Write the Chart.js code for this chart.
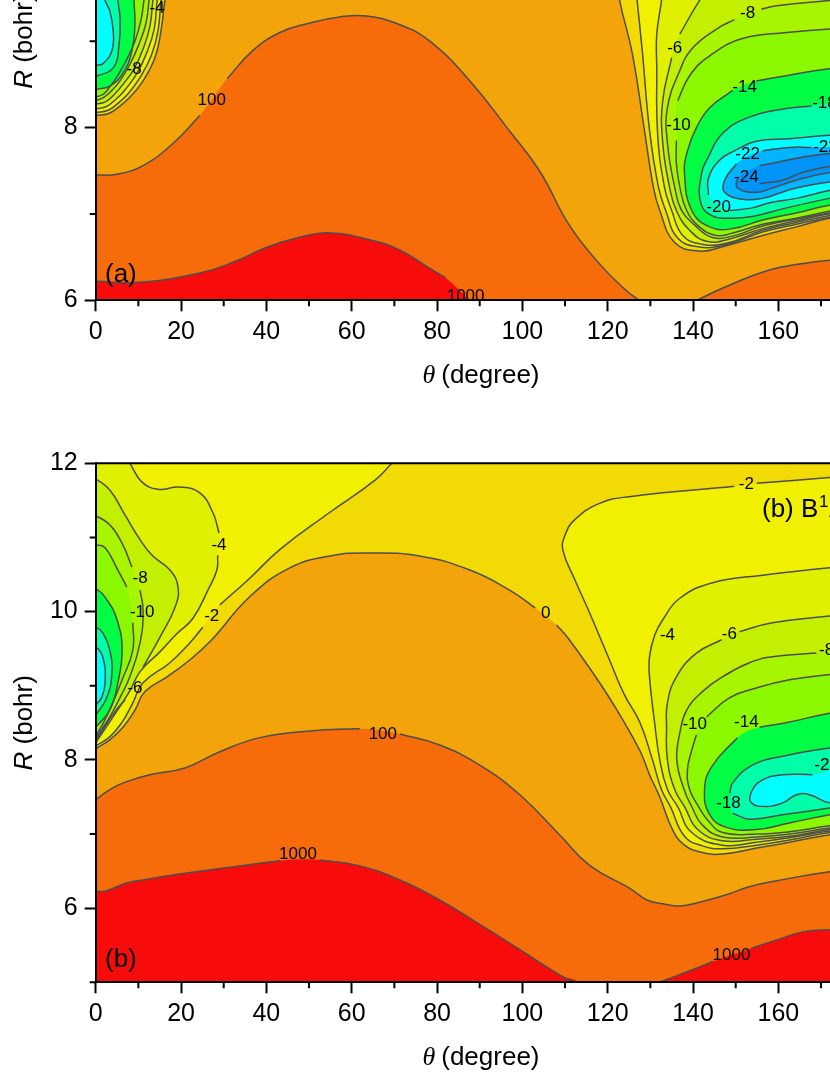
<!DOCTYPE html>
<html>
<head>
<meta charset="utf-8">
<style>
  html, body { margin: 0; padding: 0; background: #fff; overflow: hidden; width: 830px; height: 1075px; }
  canvas { position: absolute; left: 0; }
  #panelA { top: -240px; }
  #panelB { top: 400px; }
</style>
</head>
<body>
<canvas id="panelA" width="920" height="660"></canvas>
<canvas id="panelB" width="920" height="675"></canvas>
<script src="https://cdn.jsdelivr.net/npm/chart.js@4"></script>
<script>
/* ===================== AXES ===================== */
const thetaTicks = [0, 20, 40, 60, 80, 100, 120, 140, 160, 180];
const thetaMinor = [10, 30, 50, 70, 90, 110, 130, 150, 170];
const aRTicks = [6, 8, 10, 12];
const aRMinor = [7, 9, 11];
const bRTicks = [6, 8, 10, 12];
const bRMinor = [5, 7, 9, 11];

/* ===================== CONTOUR LEVEL COLOURS ===================== */
const GOLD = '#F3A40A';      // 0..100
const C_1000 = '#F80B0B';
const C_100 = '#F66B0A';
const C_0 = '#F2DA05';
const C_M2 = '#F0F000';
const C_M4 = '#DFF000';
const C_M6 = '#C3F000';
const C_M8 = '#A8F500';
const C_M10 = '#8CF800';
const C_M14 = '#00FF44';
const C_M18 = '#00FFA8';
const C_M20 = '#00FFFF';
const C_M22 = '#00B4FF';
const C_M24 = '#0094F8';
const LINE_COLOR = '#4d4d4d';
const FONT = '"Liberation Sans", Arial, sans-serif';

/* ===================== PANEL (a) CONTOURS: [theta, R], null = gap under a label ===================== */
const a100 = [[0,7.45],[5,7.46],[11.1,7.56],[18.1,7.815],[24.4,8.14],null,[30.8,8.565],[36.8,8.89],[43.2,9.1],[50.2,9.21],[57.2,9.28],[63.5,9.29],[71.3,9.19],[78.3,9.0],[87.7,8.54],[97,7.96],[104,7.5],[111,6.87],[118.3,6.41],[124.2,6.12],[127.7,5.99],[130,5.91]];
const a100Right = [[139.2,5.94],[141.5,6.015],[149.7,6.2],[157.9,6.35],[165,6.42],[172,6.465],[181,6.49]];
const a1000 = [[0,6.22],[10.4,6.21],[24.4,6.315],[32.2,6.44],[40.1,6.615],[47.8,6.73],[54.9,6.78],[64.2,6.7],[71.3,6.58],[78.3,6.37],[82,6.26],null,[87.7,5.99],[89,5.9]];

const aLeft0 = [[0,8.14],[2.9,8.16],[5.2,8.23],[8,8.35],[11.1,8.54],[13.9,8.81],[15.3,9.12],[16.2,9.47],[17.2,9.81]];
const aLeftM2 = [[0,8.17],[2.9,8.2],[5.2,8.28],[7.6,8.39],[10.4,8.58],[13,8.83],[14.6,9.12],[15.3,9.47],[16.2,9.81]];
const aLeftM4 = [[0,8.22],[2.4,8.24],[4.8,8.33],[7.1,8.45],[9.7,8.63],[12,8.87],[13.7,9.14],[14.4,9.47],[15.3,9.81]];
const aLeftM6 = [[0,8.27],[2.4,8.3],[4.3,8.38],[6.4,8.5],[9,8.68],[11.1,8.91],[12.7,9.17],[13.4,9.47],[14.4,9.81]];
const aLeftM8 = [[0,8.31],[1.9,8.35],[3.8,8.43],[5.7,8.54],[8,8.73],[10.1,8.96],[11.8,9.21],[12.5,9.47],[13.4,9.81]];
const aLeftM10 = [[0,8.35],[1.9,8.39],[3.3,8.47],[5,8.59],[7.1,8.77],[9.2,9.0],[10.6,9.24],[11.3,9.47],[12.2,9.81]];
const aLeftM14 = [[0,8.44],[3.3,8.48],[6.4,8.63],[8.5,8.89],[9.2,9.2],[9,9.47],[9.2,9.81]];
const aLeftM18 = [[0,8.59],[4.1,8.69],[5.5,8.97],[5.7,9.27],[5.2,9.47],[4.8,9.81]];
const aLeftM20 = [[0,8.72],[1.7,8.74],[3.8,8.89],[4.1,9.12],[3.3,9.35],[2.2,9.47],[1,9.7]];

const aRight0 = [[122.3,9.7],[122.8,9.47],[125.8,8.85],[128.6,7.97],[130.7,7.31],[132.2,7.04],[135.7,6.67],[141.5,6.57],[146.9,6.62],[156.3,6.75],[164.2,6.85],[171.9,6.95],[181.3,7.02]];
const aRightM2 = [[126.5,9.7],[126.9,9.47],[128.1,8.89],[129.8,7.97],[131.9,7.31],[133.6,7.04],[136.4,6.72],[141.1,6.62],[147.4,6.64],[156.3,6.79],[164.2,6.88],[171.9,6.96],[181.3,7.03]];
const aRightM4 = [[133,9.7],[132.6,9.47],[131.5,9.08],[131.5,8.69],[131.7,7.93],[133.3,7.31],[135,7.04],[137.6,6.75],[142,6.65],[147.8,6.66],[156.3,6.81],[164.2,6.9],[171.9,6.98],[181.3,7.04]];
const aRightM6 = [[145,9.7],[141.5,9.47],[136.9,9.08],null,[135,8.81],[132.9,8.31],[132.9,7.82],[134.5,7.31],[136.1,7.04],[139.2,6.81],[143.4,6.68],[148.6,6.71],[156.3,6.83],[164.2,6.92],[171.9,7.0],[181.3,7.05]];
const aRightM8 = [[181.3,9.52],[171.9,9.47],[159.6,9.41],[156,9.37],null,[149.7,9.25],[145.5,9.14],[139.9,8.92],[136.9,8.66],[134,8.23],[134,7.82],[135.7,7.31],[137.3,7.04],[140.4,6.87],[144.4,6.73],[149,6.74],[156.3,6.86],[164.2,6.94],[171.9,7.01],[181.3,7.07]];
const aRightM10 = [[181.3,9.17],[171.9,9.14],[161.9,9.1],[151.6,9.03],[143.9,8.83],[139.2,8.6],[136.4,8.31],null,[136.1,7.85],[136.1,7.58],[136.9,7.31],[138.5,7.04],[141.5,6.85],[145.5,6.75],[149.3,6.78],[156.3,6.88],[164.2,6.95],[171.9,7.03],[181.3,7.1]];
const aRightM14 = [[181.3,8.7],[171.9,8.68],[161.9,8.6],[154.8,8.54],null,[149.3,8.43],[143.9,8.23],[140.8,8.0],[138.7,7.73],[138,7.47],[139.7,7.04],[143.9,6.85],[149.3,6.83],[156.3,6.93],[164.2,7.01],[171.9,7.1],[181.3,7.16]];
const aRightM18 = [[181.3,8.31],[174.3,8.3],null,[167.8,8.25],[161.9,8.22],[153.2,8.12],[146.9,7.93],[143.4,7.64],[142,7.47],[141.8,7.13],[144.4,6.98],[148.6,6.95],[153.9,6.97],[161.9,7.07],[171.9,7.18],[181.3,7.27]];
const aRightM20 = [[181.3,7.93],[171.9,7.91],[162.6,7.87],[154.8,7.84],[149.7,7.73],[146.2,7.62],[143.6,7.41],[143.6,7.22],null,[148.6,7.04],[153.9,7.07],[158,7.13],[164.2,7.18],[171.9,7.27],[181.3,7.35]];
const aRightM22 = [[181.3,7.8],[174.3,7.78],null,[167.8,7.77],[162.6,7.77],[156.3,7.73],null,[150.2,7.58],[147.4,7.39],[147.4,7.25],[151.6,7.17],[156.3,7.18],[160.2,7.24],[164.2,7.3],[171.9,7.37],[181.3,7.41]];
const aRightM24 = [[181.3,7.73],[171.9,7.7],[164.9,7.65],[158,7.58],[155.6,7.56],null,[150.4,7.41],[150.4,7.3],[154.8,7.25],[158.6,7.3],[164.2,7.39],[171.9,7.48],[181.3,7.53]];
const aRightInner = [[155.6,7.35],[161,7.39],[165.6,7.48],[171.9,7.55],[181.3,7.6]];

/* ===================== PANEL (b) CONTOURS ===================== */
const b100 = [[0,7.46],[3.3,7.6],[6.9,7.7],[12.7,7.8],[20.9,7.89],[29.1,8.11],[38.5,8.3],[50.2,8.39],[61.9,8.42],null,[71.3,8.35],[80.6,8.2],[90,7.93],[99.4,7.53],[108.7,6.99],[115.7,6.58],[125.1,6.27],[129.2,6.11],[132.9,6.06],[136.9,6.03],[141.5,6.08],[147.8,6.18],[153.2,6.29],[159.6,6.37],[172,6.49],[181.3,6.54]];
const b1000 = [[0,6.23],[2.2,6.23],[7.3,6.34],[11.1,6.38],[19.7,6.46],[33.8,6.57],[43.2,6.64],null,[52.5,6.65],[61.9,6.57],[71.3,6.38],[80.6,6.11],[90,5.78],[99.4,5.44],[108.7,5.1],[113.4,4.97]];
const b1000Right = [[129.8,4.94],[132.6,5.01],[140.8,5.19],[144.6,5.28],null,[153.7,5.46],[159.6,5.57],[165.7,5.68],[172,5.71],[181.3,5.72]];

const b0 = [[0,8.15],[3.3,8.27],[6.4,8.44],[9.2,8.67],[11.5,8.92],[16.7,9.12],[22.1,9.35],[27.2,9.62],[36.1,10.2],[45.5,10.59],[54.9,10.75],[64.2,10.79],[75.9,10.75],[87.7,10.56],[97,10.29],[103,10.05],null,[108,9.82],[111,9.62],[118.1,9.04],[122.8,8.61],[127.5,8.13],[129.8,7.8],[132.2,7.5],[135.2,7.06],[138,6.85],[142.2,6.75],[146.9,6.73],[154.9,6.81],[162.6,6.89],[172,6.99],[181.3,7.06]];

const bLeftM2 = [[0,8.19],[3.3,8.31],[6.2,8.51],[8.7,8.77],[11.1,9.04],[17.4,9.31],[22.1,9.58],[25.1,9.79],null,[29.1,10.09],[36.1,10.45],[43.2,10.84],[54.9,11.34],[65.4,11.77],[69.4,12],[71.3,12.11]];
const bLeftM4 = [[0,8.23],[5,8.66],[8,8.93],[10.4,9.19],[15.1,9.46],[19,9.7],[22.8,9.91],[26.3,10.29],[28.4,10.56],[28.6,10.76],null,[28.9,11.06],[27.5,11.33],[24.4,11.6],[19.7,11.68],[14.6,11.65],[10.8,11.75],[8,12],[6.2,12.15]];
const bLeftM6 = [[0,8.26],[4.5,8.65],[6.9,8.81],null,[11.1,9.25],[15.1,9.66],[18.6,10.06],[19.3,10.33],[17.4,10.56],[13.2,10.76],[10.4,10.97],[6.9,11.3],[3.3,11.64],[0,11.79],[-3,11.9]];
const bLeftM8 = [[0,8.29],[3.3,8.58],[5.7,8.84],[8,9.12],[10.4,9.58],[11.1,10.02],[10.4,10.29],null,[8.5,10.6],[6.2,10.92],[3.3,11.17],[0,11.29],[-3,11.33]];
const bLeftM10 = [[0,8.32],[1.9,8.51],[4.5,8.84],[6.2,9.08],[8.7,9.48],[8.7,9.85],null,[7.3,10.33],[5.2,10.56],[2.2,10.86],[0,10.9],[-3,10.93]];
const bLeftM14 = [[0,8.44],[3.3,8.67],[5.2,9.04],[6.2,9.48],[5,9.89],[2.6,10.16],[0,10.31],[-3,10.35]];
const bLeftM18 = [[0,8.6],[2.6,8.84],[3.8,9.17],[3.3,9.48],[1.7,9.71],[0,9.79],[-3,9.82]];
const bLeftM20 = [[0,8.74],[1.4,8.84],[2.2,9.04],[1.7,9.38],[0,9.52],[-3,9.55]];

const bRightM2 = [[181.3,11.86],[172,11.81],[154.9,11.73],null,[149.7,11.69],[125.1,11.55],[118.1,11.46],[112.3,11.24],[110,11.03],[109.5,10.83],[112.3,10.43],[115.7,9.99],[120.4,9.35],[123.9,8.88],[127.5,8.51],[130.5,8.0],[132.6,7.6],[134.7,7.37],[138,6.97],[142.2,6.84],[146.9,6.8],[154.9,6.85],[162.6,6.92],[172,7.02],[181.3,7.08]];
const bRightM4 = [[181.3,10.63],[172,10.59],[156.3,10.49],[144.6,10.39],[136.9,10.18],[132.9,9.89],[131,9.68],[129.8,9.39],[129.8,9.12],[131,8.5],[132.2,8.0],[134,7.6],[136.4,7.37],[139.7,7.02],[146.9,6.85],[154.9,6.89],[162.6,6.95],[172,7.04],[181.3,7.1]];
const bRightM6 = [[181.3,10],[172,9.94],[158.6,9.85],[150.9,9.73],null,[146.7,9.62],[140.8,9.44],[136.1,9.12],[134,8.77],[133.8,8.44],[134,8.0],[135.7,7.6],[138,7.37],[141.1,7.06],[146.9,6.91],[154.9,6.93],[162.6,6.97],[172,7.06],[181.3,7.11]];
const bRightM8 = [[181.3,9.55],[172,9.48],null,[168.9,9.44],[158.6,9.39],[153.2,9.31],[146.9,9.12],[142.2,8.92],[138.5,8.67],[136.9,8.36],[136.2,8.0],[137.9,7.6],[139.7,7.37],[142.2,7.12],[146.9,6.96],[154.9,6.96],[162.6,7.0],[172,7.08],[181.3,7.14]];
const bRightM10 = [[181.3,9.19],[172,9.15],[162.6,9.08],[154.9,8.97],[148.6,8.84],[143.2,8.58],null,[140.8,8.34],[139.7,8.13],[138.7,7.87],[139.2,7.6],[141.3,7.37],[143.4,7.19],[146.9,7.02],[154.9,7.0],[162.6,7.03],[172,7.11],[181.3,7.16]];
const bRightM14 = [[181.3,8.7],[172,8.63],[162.6,8.51],[155.6,8.44],null,[150.4,8.3],[144.4,7.91],[142.7,7.6],[143.9,7.26],[147.8,7.09],[154.9,7.06],[162.6,7.15],[172,7.26],[181.3,7.35]];
const bRightM18 = [[181.3,8.23],[172,8.16],[161,8.05],[153.9,7.93],[149.3,7.69],[148.6,7.55],null,[149.3,7.28],[153.2,7.2],[161,7.26],[172,7.35],[181.3,7.43]];
const bRightM20 = [[181.3,7.97],[175.5,7.92],null,[168,7.8],[161,7.8],[156.3,7.73],[153.7,7.57],[153.7,7.42],[157.2,7.37],[161,7.42],[164.3,7.53],[167.3,7.53],[172,7.42],[181.3,7.38]];

/* ===================== CONTOUR LABELS: [text, theta, R] ===================== */
const aLabels = [
  ['100',27.2,8.32],['1000',86.7,6.05],['-4',14.4,9.38],['-8',9,8.67],['-6',135.7,8.92],['-8',152.8,9.32],
  ['-14',152.1,8.47],['-10',136.6,8.02],['-18',170.8,8.28],['-22',152.8,7.69],['-24',152.5,7.42],['-22',171,7.77],['-20',146,7.08]
];
const bLabels = [
  ['-2',152.5,11.71],['0',105.5,9.97],['-4',28.9,10.9],['-2',27.2,9.94],['-8',10.4,10.45],['-10',10.9,9.99],['-6',9.2,8.97],
  ['100',67.3,8.34],['1000',47.4,6.72],['1000',149,5.37],['-4',134,9.68],['-6',148.5,9.7],['-8',171.3,9.48],
  ['-10',140.4,8.48],['-14',152.5,8.5],['-18',148.3,7.42],['-20',171.3,7.92]
];

// [contour, fill colour, extra points that close the shape outside the plot]
const BELOW_A = [[130,5.5],[-5,5.5]];
const LEFT_TOP = [[-5,11]];
const RIGHT_TOP = [[183,11]];
const aLayers = [
  [a100, C_100, BELOW_A],
  [a100Right, C_100, [[185,5.5],[139,5.5]]],
  [a1000, C_1000, [[89,5.5],[-5,5.5],[-5,6.22]]],
  [aLeft0, C_0, LEFT_TOP], [aLeftM2, C_M2, LEFT_TOP], [aLeftM4, C_M4, LEFT_TOP], [aLeftM6, C_M6, LEFT_TOP],
  [aLeftM8, C_M8, LEFT_TOP], [aLeftM10, C_M10, LEFT_TOP], [aLeftM14, C_M14, LEFT_TOP], [aLeftM18, C_M18, LEFT_TOP], [aLeftM20, C_M20, LEFT_TOP],
  [aRight0, C_0, RIGHT_TOP], [aRightM2, C_M2, RIGHT_TOP], [aRightM4, C_M4, RIGHT_TOP], [aRightM6, C_M6, RIGHT_TOP],
  [aRightM8, C_M8], [aRightM10, C_M10], [aRightM14, C_M14], [aRightM18, C_M18], [aRightM20, C_M20], [aRightM22, C_M22], [aRightM24, C_M24],
  [aRightInner, null]
];

const LEFT_UP = [[-5,13]];
const bLayers = [
  [b100, C_100, [[183,4.5],[-5,4.5]]],
  [b1000, C_1000, [[113.4,4.5],[-5,4.5],[-5,6.23]]],
  [b1000Right, C_1000, [[183,4.5],[129.8,4.5]]],
  [b0, C_0, [[183,13],[-5,13]]],
  [bLeftM2, C_M2, LEFT_UP],
  [bRightM2, C_M2],
  [bLeftM4, C_M4, LEFT_UP], [bLeftM6, C_M6, LEFT_UP], [bLeftM8, C_M8, LEFT_UP], [bLeftM10, C_M10, LEFT_UP],
  [bLeftM14, C_M14, LEFT_UP], [bLeftM18, C_M18, LEFT_UP], [bLeftM20, C_M20, LEFT_UP],
  [bRightM4, C_M4], [bRightM6, C_M6], [bRightM8, C_M8], [bRightM10, C_M10], [bRightM14, C_M14], [bRightM18, C_M18], [bRightM20, C_M20]
];

/* ===================== DATASETS ===================== */
function toPoints(line) {
  return line.map(p => p ? { x: p[0], y: p[1] } : { x: NaN, y: NaN });
}

function buildDatasets(layers) {
  const base = { showLine: true, pointRadius: 0, tension: 0.45, capBezierPoints: false };
  const fills = [];
  const strokes = [];
  layers.forEach(([line, color, closing], i) => {
    if (color) {
      fills.push({
        ...base,
        data: toPoints(line.filter(Boolean).concat(closing || [])),
        fill: 'shape',
        backgroundColor: color,
        borderWidth: 0,
        order: 1000 - i
      });
    }
    strokes.push({ ...base, data: toPoints(line), fill: false, borderColor: LINE_COLOR, borderWidth: 1.5, order: 0 });
  });
  return fills.concat(strokes);
}

/* ===================== PLUGIN: background, minor ticks, labels, titles ===================== */
function panelPlugin(labels, minorR, drawTags) {
  return {
    id: 'panelExtras',
    beforeDatasetsDraw(chart) {
      const { ctx, chartArea: a } = chart;
      ctx.save();
      ctx.fillStyle = GOLD;
      ctx.fillRect(a.left, a.top, a.right - a.left, a.bottom - a.top);
      ctx.restore();
    },
    afterDraw(chart) {
      const { ctx, chartArea: a, scales } = chart;
      ctx.save();
      ctx.strokeStyle = '#000';
      ctx.lineWidth = 2;
      ctx.beginPath();
      thetaMinor.forEach(v => {
        const px = scales.x.getPixelForValue(v);
        ctx.moveTo(px, a.bottom);
        ctx.lineTo(px, a.bottom + 6);
      });
      minorR.forEach(v => {
        const py = scales.y.getPixelForValue(v);
        ctx.moveTo(a.left, py);
        ctx.lineTo(a.left - 6, py);
      });
      ctx.moveTo(a.left, a.top);
      ctx.lineTo(a.right, a.top);
      ctx.stroke();

      ctx.fillStyle = '#000';
      ctx.textBaseline = 'middle';
      ctx.textAlign = 'center';
      ctx.font = `17px ${FONT}`;
      labels.forEach(([text, theta, r]) => {
        ctx.fillText(text, scales.x.getPixelForValue(theta), scales.y.getPixelForValue(r));
      });

      // x title: italic theta + (degree)
      ctx.textAlign = 'left';
      const titleY = a.bottom + 76;
      ctx.font = 'italic 26px "Liberation Serif", serif';
      const thetaW = ctx.measureText('θ').width;
      ctx.font = `26px ${FONT}`;
      const degW = ctx.measureText('(degree)').width;
      const startX = 481 - (thetaW + 6 + degW) / 2;
      ctx.fillText('(degree)', startX + thetaW + 6, titleY);
      ctx.font = 'italic 26px "Liberation Serif", serif';
      ctx.fillText('θ', startX, titleY);

      // y title: italic R + (bohr)
      ctx.save();
      ctx.translate(25, (a.top + a.bottom) / 2);
      ctx.rotate(-Math.PI / 2);
      ctx.font = `italic 26px ${FONT}`;
      const rW = ctx.measureText('R ').width;
      ctx.font = `26px ${FONT}`;
      const bohrW = ctx.measureText('(bohr)').width;
      const start = -(rW + bohrW) / 2;
      ctx.fillText('(bohr)', start + rW, 0);
      ctx.font = `italic 26px ${FONT}`;
      ctx.fillText('R', start, 0);
      ctx.restore();

      drawTags(ctx, a);
      ctx.restore();
    }
  };
}

function axisScale(min, max, ticks, afterFit, padding) {
  return {
    type: 'linear',
    min,
    max,
    afterBuildTicks: scale => { scale.ticks = ticks.map(value => ({ value })); },
    afterFit,
    grid: { drawOnChartArea: false, drawTicks: true, tickLength: 11, tickWidth: 2, tickColor: '#000', z: 1 },
    border: { display: true, color: '#000', width: 2, z: 1 },
    ticks: {
      color: '#000',
      font: { family: FONT, size: 25 },
      padding,
      autoSkip: false,
      maxRotation: 0,
      callback: v => String(v),
      z: 1
    }
  };
}

function renderPanel(id, layers, labels, yMin, yTicks, minorR, topPad, xHeight, drawTags) {
  new Chart(document.getElementById(id), {
    type: 'scatter',
    data: { datasets: buildDatasets(layers) },
    options: {
      responsive: false,
      animation: false,
      layout: { padding: { top: topPad, right: 56.3, left: 0, bottom: 0 } },
      plugins: { legend: { display: false }, tooltip: { enabled: false } },
      scales: {
        x: axisScale(0, 180, thetaTicks, s => { s.height = xHeight; }, 6),
        y: axisScale(yMin, 12, yTicks, s => { s.width = 95.7; }, 7)
      }
    },
    plugins: [panelPlugin(labels, minorR, drawTags)]
  });
}

/* ===================== PANELS ===================== */
renderPanel('panelA', aLayers, aLabels, 6, aRTicks, aRMinor, 20.4, 119.7, (ctx, a) => {
  ctx.font = `26px ${FONT}`;
  ctx.fillText('(a)', 105, a.bottom - 25);
});

renderPanel('panelB', bLayers, bLabels, 5, bRTicks, bRMinor, 63.3, 92.7, (ctx, a) => {
  ctx.font = `26px ${FONT}`;
  ctx.fillText('(b)', 105, a.bottom - 22);
  ctx.fillText('(b) B', 762, a.top + 47);
  ctx.fillText('A', 829, a.top + 47);
  ctx.font = `17px ${FONT}`;
  ctx.fillText('1', 819, a.top + 39);
});
</script>
</body>
</html>
